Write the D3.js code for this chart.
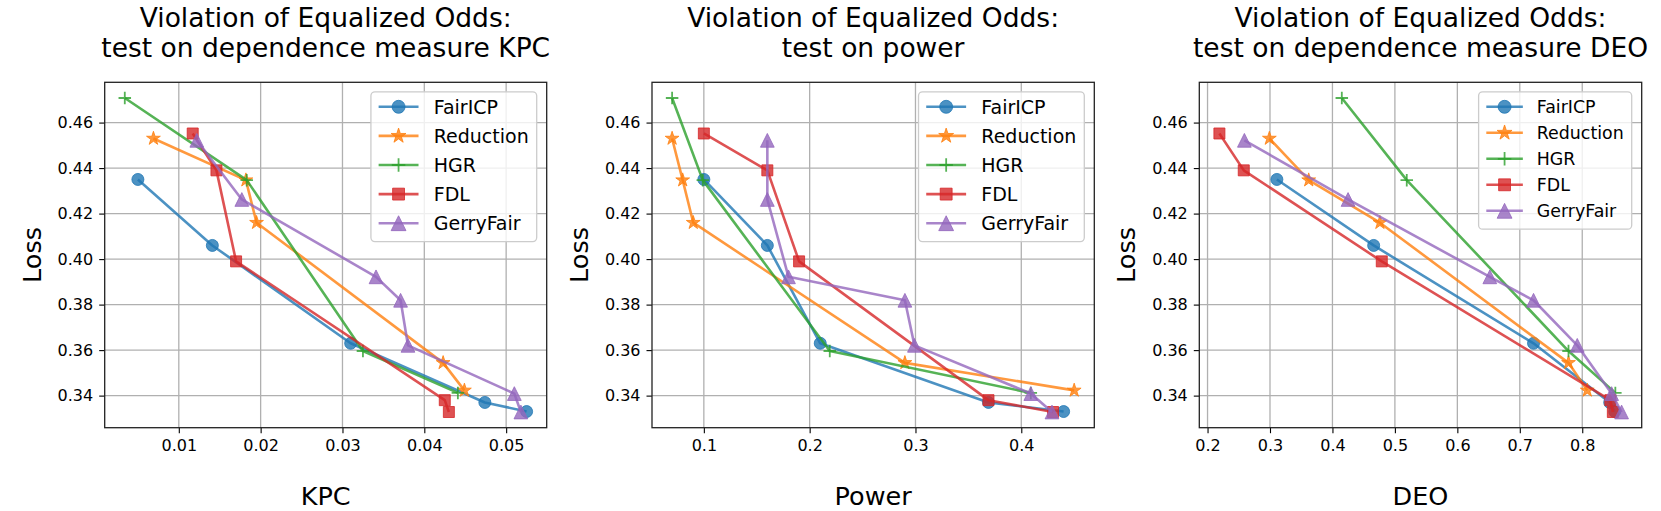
<!DOCTYPE html>
<html>
<head>
<meta charset="utf-8">
<script src="https://cdn.jsdelivr.net/npm/d3@7"></script>
<style>
  html, body { margin: 0; padding: 0; background: #fff; }
  text { font-family: "DejaVu Sans", sans-serif; fill: #000; }
</style>
</head>
<body>
<svg id="chart" width="1661" height="511"></svg>
<script>
// ---------------- data ----------------
const methods = ["FairICP", "Reduction", "HGR", "FDL", "GerryFair"];
const colors = ["#1f77b4", "#ff7f0e", "#2ca02c", "#d62728", "#9467bd"];
const markers = ["circle", "star", "plus", "square", "triangle"];

const lossFair  = [0.435, 0.406, 0.363, 0.337, 0.333];
const lossRed   = [0.453, 0.4347, 0.416, 0.3544, 0.3423];
const lossHGR   = [0.4708, 0.4347, 0.3596, 0.3412];
const lossFDL   = [0.4552, 0.439, 0.399, 0.338, 0.3328];
const lossGerry = [0.4522, 0.4262, 0.3922, 0.3819, 0.3621, 0.3409, 0.3328];

const kpcFair  = [0.0050, 0.0141, 0.0310, 0.0474, 0.0525];
const kpcRed   = [0.0069, 0.0182, 0.0195, 0.0423, 0.0449];
const kpcHGR   = [0.0034, 0.0183, 0.0325, 0.0441];
const kpcFDL   = [0.0117, 0.0146, 0.0170, 0.0425, 0.0430];
const kpcGerry = [0.0122, 0.0177, 0.0341, 0.0371, 0.0380, 0.0510, 0.0518];

const powFair  = [0.100, 0.160, 0.210, 0.369, 0.440];
const powRed   = [0.070, 0.080, 0.090, 0.290, 0.450];
const powHGR   = [0.070, 0.099, 0.219, 0.409];
const powFDL   = [0.100, 0.160, 0.190, 0.369, 0.430];
const powGerry = [0.160, 0.160, 0.180, 0.290, 0.299, 0.409, 0.429];

const deoFair  = [0.311, 0.466, 0.722, 0.844, 0.852];
const deoRed   = [0.299, 0.362, 0.476, 0.778, 0.808];
const deoHGR   = [0.415, 0.519, 0.778, 0.853];
const deoFDL   = [0.219, 0.258, 0.479, 0.845, 0.849];
const deoGerry = [0.259, 0.425, 0.652, 0.722, 0.792, 0.847, 0.863];

const yTicks = [0.34, 0.36, 0.38, 0.40, 0.42, 0.44, 0.46];
const kpcTicks = [0.01, 0.02, 0.03, 0.04, 0.05];
const powTicks = [0.1, 0.2, 0.3, 0.4];
const deoTicks = [0.2, 0.3, 0.4, 0.5, 0.6, 0.7, 0.8];

const titles1 = ["Violation of Equalized Odds:", "Violation of Equalized Odds:", "Violation of Equalized Odds:"];
const titles2 = ["test on dependence measure KPC", "test on power", "test on dependence measure DEO"];
const xLabels = ["KPC", "Power", "DEO"];
const yLabel = "Loss";

const losses = [lossFair, lossRed, lossHGR, lossFDL, lossGerry];
const panels = [
  { xs: [kpcFair, kpcRed, kpcHGR, kpcFDL, kpcGerry], ticks: kpcTicks, fmt: ".2f" },
  { xs: [powFair, powRed, powHGR, powFDL, powGerry], ticks: powTicks, fmt: ".1f" },
  { xs: [deoFair, deoRed, deoHGR, deoFDL, deoGerry], ticks: deoTicks, fmt: ".1f" }
];

// ---------------- layout ----------------
const boxes = [
  { left: 104.7, right: 546.7, legFont: 19, legRow: 29.1 },
  { left: 652.0, right: 1094.3, legFont: 19, legRow: 29.1 },
  { left: 1199.3, right: 1641.7, legFont: 17.4, legRow: 26.0 }
];
const axTop = 82.3, axBottom = 427.7;
const tickFont = 16, titleFont = 26.5, labelFont = 25.5;

const svg = d3.select("#chart");

function withMargin(vals) {
  const mn = d3.min(vals), mx = d3.max(vals), m = (mx - mn) * 0.05;
  return [mn - m, mx + m];
}
const yDomain = withMargin(losses.flat());

function markerPath(type, s) {
  const p = d3.path();
  if (type === "circle") { p.arc(0, 0, s * 0.48, 0, 2 * Math.PI); p.closePath(); }
  else if (type === "square") { const h = s * 0.44; p.rect(-h, -h, 2 * h, 2 * h); }
  else if (type === "triangle") {
    const h = s * 0.55;
    p.moveTo(0, -h); p.lineTo(h, h); p.lineTo(-h, h); p.closePath();
  } else if (type === "star") {
    const R = s * 0.58, r = R * 0.381966;
    for (let i = 0; i < 10; i++) {
      const a = -Math.PI / 2 + i * Math.PI / 5, rr = i % 2 ? r : R;
      const px = rr * Math.cos(a), py = rr * Math.sin(a);
      if (i === 0) p.moveTo(px, py); else p.lineTo(px, py);
    }
    p.closePath();
  } else if (type === "plus") {
    const h = s * 0.5;
    p.moveTo(-h, 0); p.lineTo(h, 0); p.moveTo(0, -h); p.lineTo(0, h);
  }
  return p.toString();
}

function drawMarker(g, type, color, size) {
  const path = g.append("path").attr("d", markerPath(type, size));
  if (type === "plus") {
    path.attr("fill", "none").attr("stroke", color).attr("stroke-width", 1.8).attr("stroke-opacity", 0.8);
  } else {
    path.attr("fill", color).attr("fill-opacity", 0.8).attr("stroke", color).attr("stroke-opacity", 0.8).attr("stroke-width", 1);
  }
  return path;
}

panels.forEach((pan, pi) => {
  const b = boxes[pi];
  const x = d3.scaleLinear().domain(withMargin(pan.xs.flat())).range([b.left, b.right]);
  const y = d3.scaleLinear().domain(yDomain).range([axBottom, axTop]);
  const g = svg.append("g");

  // grid
  g.append("g").selectAll("line").data(pan.ticks).join("line")
    .attr("x1", d => x(d)).attr("x2", d => x(d)).attr("y1", axTop).attr("y2", axBottom)
    .attr("stroke", "#b0b0b0").attr("stroke-width", 1.3);
  g.append("g").selectAll("line").data(yTicks).join("line")
    .attr("y1", d => y(d)).attr("y2", d => y(d)).attr("x1", b.left).attr("x2", b.right)
    .attr("stroke", "#b0b0b0").attr("stroke-width", 1.3);

  // axes
  const xAxis = d3.axisBottom(x).tickValues(pan.ticks).tickFormat(d3.format(pan.fmt)).tickSizeOuter(0).tickSize(5.5).tickPadding(6);
  const yAxis = d3.axisLeft(y).tickValues(yTicks).tickFormat(d3.format(".2f")).tickSizeOuter(0).tickSize(5.5).tickPadding(6);
  const gx = g.append("g").attr("transform", `translate(0,${axBottom})`).call(xAxis);
  const gy = g.append("g").attr("transform", `translate(${b.left},0)`).call(yAxis);
  [gx, gy].forEach(a => {
    a.select(".domain").remove();
    a.selectAll(".tick line").attr("stroke", "#000").attr("stroke-width", 1.1);
    a.selectAll(".tick text").attr("font-size", tickFont).attr("font-family", "DejaVu Sans").attr("fill", "#000");
  });

  // series
  pan.xs.forEach((xs, si) => {
    const pts = xs.map((v, i) => [v, losses[si][i]]);
    const sg = g.append("g");
    sg.append("path").datum(pts)
      .attr("d", d3.line().x(d => x(d[0])).y(d => y(d[1])))
      .attr("fill", "none").attr("stroke", colors[si]).attr("stroke-width", 2.6)
      .attr("stroke-opacity", 0.8).attr("stroke-linejoin", "round");
    pts.forEach(d => {
      drawMarker(sg, markers[si], colors[si], 12.5).attr("transform", `translate(${x(d[0])},${y(d[1])})`);
    });
  });

  // spines
  g.append("rect").attr("x", b.left).attr("y", axTop).attr("width", b.right - b.left).attr("height", axBottom - axTop)
    .attr("fill", "none").attr("stroke", "#222").attr("stroke-width", 1.3);

  // titles and labels
  const cx = (b.left + b.right) / 2;
  g.append("text").attr("x", cx).attr("y", 27).attr("text-anchor", "middle").attr("font-size", titleFont).text(titles1[pi]);
  g.append("text").attr("x", cx).attr("y", 57).attr("text-anchor", "middle").attr("font-size", titleFont).text(titles2[pi]);
  g.append("text").attr("x", cx).attr("y", 504.5).attr("text-anchor", "middle").attr("font-size", labelFont).text(xLabels[pi]);
  g.append("text").attr("transform", `translate(${b.left - 64},${(axTop + axBottom) / 2}) rotate(-90)`)
    .attr("text-anchor", "middle").attr("font-size", labelFont).text(yLabel);

  // legend
  const fs = b.legFont, row = b.legRow;
  const lg = g.append("g");
  const frame = lg.append("rect");
  const items = lg.append("g");
  let maxW = 0;
  methods.forEach((m, i) => {
    const ry = 15 + i * row;
    const ig = items.append("g").attr("transform", `translate(0,${ry})`);
    ig.append("line").attr("x1", 7.7).attr("x2", 7.7 + fs * 2.1).attr("y1", 0).attr("y2", 0)
      .attr("stroke", colors[i]).attr("stroke-width", 2.6).attr("stroke-opacity", 0.8);
    drawMarker(ig, markers[i], colors[i], 13.5).attr("transform", `translate(${7.7 + fs * 1.05},0)`);
    const t = ig.append("text").attr("x", 7.7 + fs * 2.1 + fs * 0.8).attr("y", fs * 0.36)
      .attr("font-size", fs).text(m);
    maxW = Math.max(maxW, 7.7 + fs * 2.9 + t.node().getComputedTextLength());
  });
  const w = maxW + 8, h = 15 + 4 * row + 18.4;
  frame.attr("x", 0).attr("y", 0).attr("width", w).attr("height", h).attr("rx", 4)
    .attr("fill", "#fff").attr("fill-opacity", 0.8).attr("stroke", "#cccccc").attr("stroke-width", 1.3);
  lg.attr("transform", `translate(${b.right - 10 - w},${axTop + 9.5})`);
});
</script>
</body>
</html>
